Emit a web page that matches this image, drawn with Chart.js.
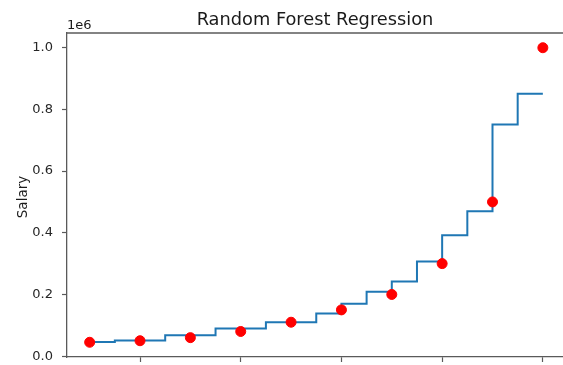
<!DOCTYPE html>
<html>
<head>
<meta charset="utf-8">
<script src="https://cdn.jsdelivr.net/npm/chart.js@4"></script>
<style>
  html, body { margin: 0; padding: 0; background: #fff; overflow: hidden; }
  canvas { display: block; }
</style>
</head>
<body>
<canvas id="c" width="563" height="365"></canvas>
<script>
// Position levels and actual salaries (red points)
const levels = [1, 2, 3, 4, 5, 6, 7, 8, 9, 10];
const salaries = [45000, 50000, 60000, 80000, 110000, 150000, 200000, 300000, 500000, 1000000];

// Random forest prediction (step function): x where each step starts, and its value
const gridX = [1, 1.5, 2.5, 3.5, 4.5, 5.5, 6, 6.5, 7, 7.5, 8, 8.5, 9, 9.5, 10];
const predicted = [46000, 51000, 68000, 90000, 110000, 138000, 170000, 209000, 242000, 307000, 392000, 470000, 751000, 851000, 851000];

// Tick labels
const yTickValues = [0, 200000, 400000, 600000, 800000, 1000000];
const yTickLabels = ['0.0', '0.2', '0.4', '0.6', '0.8', '1.0'];
const xTickValues = [2, 4, 6, 8, 10];

const titleText = 'Random Forest Regression';
const yAxisTitle = 'Salary';
const offsetText = '1e6';

const FONT = "'DejaVu Sans', sans-serif";
const SPINE = '#5a5a5a';

function noPad(scale) {
  scale.paddingLeft = 0;
  scale.paddingRight = 0;
  scale.paddingTop = 0;
  scale.paddingBottom = 0;
}

const decorPlugin = {
  id: 'decor',
  afterDraw(chart) {
    const ctx = chart.ctx;
    const a = chart.chartArea;
    ctx.save();
    // top spine
    ctx.strokeStyle = SPINE;
    ctx.lineWidth = 1.3;
    ctx.beginPath();
    ctx.moveTo(a.left, a.top);
    ctx.lineTo(a.right, a.top);
    ctx.stroke();
    // title
    ctx.fillStyle = '#1a1a1a';
    ctx.font = '17.8px ' + FONT;
    ctx.textAlign = 'center';
    ctx.textBaseline = 'alphabetic';
    ctx.fillText(titleText, 315, 25);
    // offset text
    ctx.font = '13px ' + FONT;
    ctx.textAlign = 'left';
    ctx.fillText(offsetText, 67, 29);
    // y axis title
    ctx.translate(27, 197);
    ctx.rotate(-Math.PI / 2);
    ctx.textAlign = 'center';
    ctx.textBaseline = 'alphabetic';
    ctx.font = '13.5px ' + FONT;
    ctx.fillText(yAxisTitle, 0, 0);
    ctx.restore();
  }
};

new Chart(document.getElementById('c'), {
  type: 'scatter',
  data: {
    datasets: [
      {
        label: 'Actual',
        data: levels.map((x, i) => ({ x: x, y: salaries[i] })),
        backgroundColor: '#ff0000',
        borderColor: '#ff0000',
        pointRadius: 5,
        pointHoverRadius: 5,
        showLine: false,
        order: 0
      },
      {
        label: 'Prediction',
        type: 'line',
        data: gridX.map((x, i) => ({ x: x, y: predicted[i] })),
        borderColor: '#1f77b4',
        backgroundColor: '#1f77b4',
        borderWidth: 2,
        pointRadius: 0,
        stepped: 'before',
        fill: false,
        order: 1
      }
    ]
  },
  options: {
    responsive: false,
    animation: false,
    events: [],
    layout: { autoPadding: false, padding: { top: 33, left: 0, right: 0, bottom: 0 } },
    plugins: {
      legend: { display: false },
      title: { display: false },
      tooltip: { enabled: false }
    },
    scales: {
      x: {
        type: 'linear',
        min: 0.55,
        max: 10.4,
        afterFit(scale) { scale.height = 8; noPad(scale); },
        afterBuildTicks(scale) { scale.ticks = xTickValues.map(v => ({ value: v })); },
        ticks: { display: false },
        grid: { display: true, drawOnChartArea: false, drawTicks: true, tickLength: 5, color: SPINE, tickWidth: 1.2 },
        border: { display: true, color: SPINE, width: 1.3 }
      },
      y: {
        type: 'linear',
        min: -2750,
        max: 1047750,
        afterFit(scale) { scale.width = 67; noPad(scale); },
        afterBuildTicks(scale) { scale.ticks = yTickValues.map(v => ({ value: v })); },
        ticks: {
          padding: 9,
          color: '#262626',
          font: { family: FONT, size: 13 },
          callback: (v) => { const i = yTickValues.indexOf(v); return i >= 0 ? yTickLabels[i] : ''; }
        },
        grid: { display: true, drawOnChartArea: false, drawTicks: true, tickLength: 5, color: SPINE, tickWidth: 1.2 },
        border: { display: true, color: SPINE, width: 1.3 }
      }
    }
  },
  plugins: [decorPlugin]
});
</script>
</body>
</html>
